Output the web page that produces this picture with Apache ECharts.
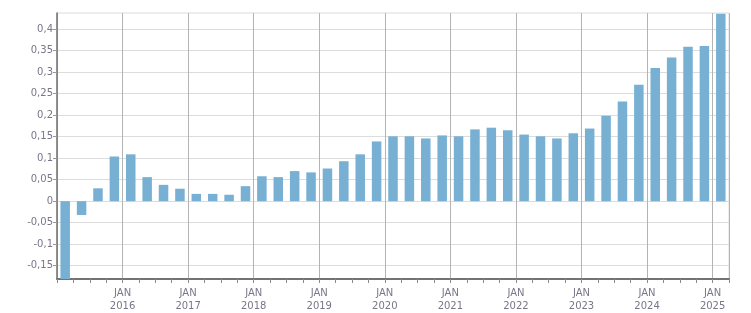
<!DOCTYPE html>
<html>
<head>
<meta charset="utf-8">
<script src="https://cdn.jsdelivr.net/npm/echarts@6/dist/echarts.min.js"></script>
<style>html,body{margin:0;padding:0;background:#fff;}#c{width:751px;height:313px;}</style>
</head>
<body>
<div id="c"></div>
<script>
// Quarterly periods 2015 Q1 .. 2025 Q1
const quarters = [
  '2015Q1','2015Q2','2015Q3','2015Q4',
  '2016Q1','2016Q2','2016Q3','2016Q4',
  '2017Q1','2017Q2','2017Q3','2017Q4',
  '2018Q1','2018Q2','2018Q3','2018Q4',
  '2019Q1','2019Q2','2019Q3','2019Q4',
  '2020Q1','2020Q2','2020Q3','2020Q4',
  '2021Q1','2021Q2','2021Q3','2021Q4',
  '2022Q1','2022Q2','2022Q3','2022Q4',
  '2023Q1','2023Q2','2023Q3','2023Q4',
  '2024Q1','2024Q2','2024Q3','2024Q4',
  '2025Q1'
];
const values = [
  -0.181, -0.032, 0.030, 0.104,
  0.109, 0.056, 0.038, 0.029,
  0.017, 0.017, 0.015, 0.035,
  0.058, 0.056, 0.070, 0.067,
  0.076, 0.093, 0.109, 0.139,
  0.151, 0.151, 0.146, 0.153,
  0.151, 0.167, 0.171, 0.165,
  0.155, 0.151, 0.146, 0.158,
  0.169, 0.199, 0.232, 0.271,
  0.310, 0.334, 0.359, 0.361,
  0.436
];
const yTickValues = [-0.15, -0.1, -0.05, 0, 0.05, 0.1, 0.15, 0.2, 0.25, 0.3, 0.35, 0.4];
const monthNames = ['JAN','FEB','MAR','APR','MAY','JUN','JUL','AUG','SEP','OCT','NOV','DEC'];
const startYear = 2015;

// x position: months since Jan 2015, bar placed at middle of its quarter
function quarterToMonth(q) {
  const y = parseInt(q.slice(0, 4), 10);
  const n = parseInt(q.slice(5), 10);
  return (y - startYear) * 12 + (n - 1) * 3 + 1.5;
}
const barData = quarters.map((q, i) => [quarterToMonth(q), values[i]]);

const textColor = '#7a7588';
const font = 'DejaVu Sans';

const chart = echarts.init(document.getElementById('c'), null, {renderer: 'canvas'});
chart.setOption({
  animation: false,
  backgroundColor: '#fff',
  grid: {left: 57, right: 22, top: 13, bottom: 33, containLabel: false, show: true, borderColor: '#dcdcdc', borderWidth: 1},
  xAxis: {
    type: 'value',
    min: 0,
    max: 123,
    interval: 12,
    axisLine: {show: true, onZero: false, lineStyle: {color: '#737373', width: 2}},
    axisTick: {show: true, length: 4, lineStyle: {color: '#8a8a8a'}},
    minorTick: {show: true, splitNumber: 4, length: 4, lineStyle: {color: '#8a8a8a'}},
    splitLine: {show: true, lineStyle: {color: '#b4b4b4', width: 1}},
    axisLabel: {
      show: true,
      color: textColor,
      fontFamily: font,
      fontSize: 10,
      lineHeight: 13,
      margin: 8,
      showMinLabel: false,
      showMaxLabel: false,
      formatter: function (v) {
        if (v <= 0 || v % 12 !== 0) return '';
        return monthNames[0] + '\n' + (startYear + v / 12);
      }
    }
  },
  yAxis: {
    type: 'value',
    min: -0.181,
    max: 0.4378,
    splitNumber: 12,
    axisLine: {show: true, lineStyle: {color: '#737373', width: 1.5}},
    axisTick: {show: true, length: 4, customValues: yTickValues, lineStyle: {color: '#999'}},
    splitLine: {show: true, lineStyle: {color: '#dcdcdc', width: 1}},
    axisLabel: {
      color: textColor,
      fontFamily: font,
      fontSize: 10,
      margin: 4,
      customValues: yTickValues,
      formatter: function (v) {
        const r = Math.round(v * 100) / 100;
        return String(r).replace('.', ',');
      }
    }
  },
  series: [{
    type: 'bar',
    data: barData,
    barWidth: 9.5,
    itemStyle: {color: '#77b0d3'},
    emphasis: {disabled: true}
  }]
});
</script>
</body>
</html>
